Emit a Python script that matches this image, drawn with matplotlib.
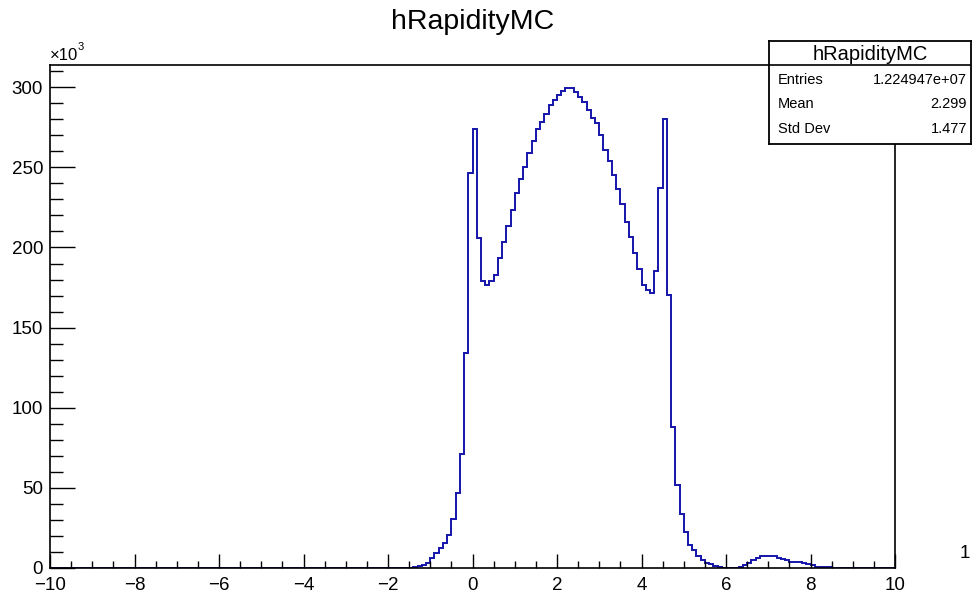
import numpy as np
import matplotlib
matplotlib.use("Agg")
import matplotlib.pyplot as plt
from matplotlib.ticker import MultipleLocator, FuncFormatter
from matplotlib.lines import Line2D

plt.rcParams['font.family'] = ['Liberation Sans', 'DejaVu Sans']

# ---- data (counts in thousands) ----
hist_name = "hRapidityMC"
n_bins = 200
x_range = (-10.0, 10.0)
first_filled_bin_low = -1.4   # low edge of the first listed bin
counts_k = [
    0.4, 1.0, 2.0, 3.3, 6.0, 9.6, 12.3, 15.4, 20.6, 30.4,          # -1.4 .. -0.5
    46.6, 71.0, 134.0, 246.5, 273.7, 206.0, 179.0, 176.5, 179.0, 183.0,  # -0.4 .. 0.5
    193.6, 203.6, 213.4, 223.3, 234.0, 243.0, 250.3, 259.0, 266.4, 273.7,  # 0.6 .. 1.5
    278.4, 283.6, 288.8, 292.0, 295.0, 297.7, 299.3, 299.5, 297.2, 294.0,  # 1.6 .. 2.5
    291.0, 286.0, 281.0, 277.4, 270.5, 261.0, 254.0, 245.0, 236.8, 227.0,  # 2.6 .. 3.5
    216.0, 206.3, 196.3, 186.3, 176.5, 173.4, 171.7, 185.5, 237.0, 280.0,  # 3.6 .. 4.5
    170.3, 88.2, 52.0, 34.0, 22.5, 14.5, 11.5, 7.5, 5.0, 3.3,              # 4.6 .. 5.5
    2.3, 1.2, 0.5, 0.3, 0.0, 0.0, 0.0, 0.4, 1.7, 3.3,                      # 5.6 .. 6.5
    5.0, 6.4, 7.2, 7.4, 7.4, 7.2, 6.2, 5.9, 5.0, 4.0,                      # 6.6 .. 7.5
    3.9, 3.7, 2.9, 2.7, 1.9, 0.9, 0.8, 0.7, 0.6,                           # 7.6 .. 8.4
]
stats_labels = ["Entries", "Mean", "Std Dev"]
stats_values = ["1.224947e+07", "2.299", "1.477"]

# ---- build histogram ----
edges = np.linspace(x_range[0], x_range[1], n_bins + 1)
full = np.zeros(n_bins)
i0 = int(round((first_filled_bin_low - x_range[0]) / ((x_range[1] - x_range[0]) / n_bins)))
full[i0:i0 + len(counts_k)] = counts_k

W, H = 973, 593
fig = plt.figure(figsize=(W / 100, H / 100), dpi=100)
ax = fig.add_axes([50 / W, 1 - 568 / H, 845 / W, 503 / H])

ax.stairs(full, edges, color='#1414aa', linewidth=1.4, baseline=None)

ax.set_xlim(*x_range)
ax.set_ylim(0, max(counts_k) * 1.048)

ax.xaxis.set_major_locator(MultipleLocator(2))
ax.xaxis.set_minor_locator(MultipleLocator(0.5))
ax.yaxis.set_major_locator(MultipleLocator(50))
ax.yaxis.set_minor_locator(MultipleLocator(10))
ax.xaxis.set_major_formatter(FuncFormatter(lambda v, p: f"{v:.0f}".replace('-', '\u2212')))
ax.yaxis.set_major_formatter(FuncFormatter(lambda v, p: f"{v:.0f}"))

ax.tick_params(axis='both', which='both', direction='in', top=False, right=False,
               width=1.0, labelsize=13.5, color='black')
ax.tick_params(axis='x', which='major', length=10, pad=6.5)
ax.tick_params(axis='x', which='minor', length=5)
ax.tick_params(axis='y', which='major', length=18, pad=5)
ax.tick_params(axis='y', which='minor', length=9)
for s in ax.spines.values():
    s.set_linewidth(1.2)
    s.set_color('black')

# exponent label
fig.text(50 / W, 1 - 60 / H, "\u00d710", fontsize=12, ha='left', va='baseline')
fig.text(78 / W, 1 - 50 / H, "3", fontsize=8, ha='left', va='baseline')

# title
fig.text(473 / W, 1 - 22 / H, hist_name, fontsize=20.5, ha='center', va='center')

# stray label at right edge
fig.text(960 / W, 1 - 553 / H, "1", fontsize=13.5, ha='left', va='center')

# stats box
bx0, by0, bx1, by1 = 769, 41, 971, 144
sax = fig.add_axes([bx0 / W, 1 - by1 / H, (bx1 - bx0) / W, (by1 - by0) / H], zorder=5)
sax.set_xlim(bx0, bx1)
sax.set_ylim(by1, by0)
sax.set_xticks([])
sax.set_yticks([])
sax.set_facecolor('white')
for s in sax.spines.values():
    s.set_linewidth(1.3)
    s.set_color('black')
sax.add_line(Line2D([bx0, bx1], [65, 65], color='black', linewidth=1.2))
sax.text((bx0 + bx1) / 2, 54, hist_name, fontsize=14.5, ha='center', va='center')
row_y = [80, 104, 129]
for lab, val, y in zip(stats_labels, stats_values, row_y):
    sax.text(bx0 + 9, y, lab, fontsize=10.5, ha='left', va='center')
    sax.text(bx1 - 4, y, val, fontsize=10.5, ha='right', va='center')

fig.savefig("out.png", dpi=100)
